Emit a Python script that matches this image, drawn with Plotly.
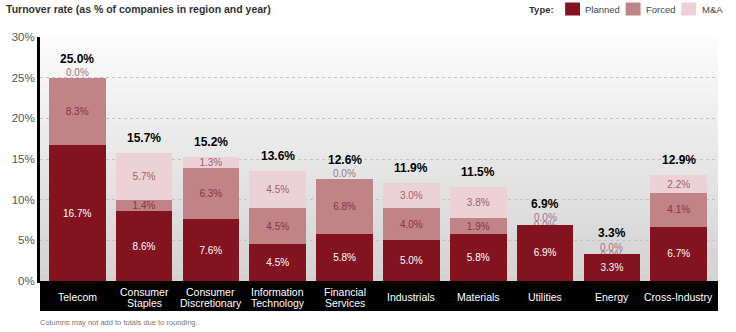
import plotly.graph_objects as go

categories = ["Telecom", "Consumer Staples", "Consumer Discretionary", "Information Technology",
              "Financial Services", "Industrials", "Materials", "Utilities", "Energy", "Cross-Industry"]
category_lines = [["Telecom"], ["Consumer", "Staples"], ["Consumer", "Discretionary"],
                  ["Information", "Technology"], ["Financial", "Services"], ["Industrials"],
                  ["Materials"], ["Utilities"], ["Energy"], ["Cross-Industry"]]
planned = [16.7, 8.6, 7.6, 4.5, 5.8, 5.0, 5.8, 6.9, 3.3, 6.7]
forced = [8.3, 1.4, 6.3, 4.5, 6.8, 4.0, 1.9, 0.0, 0.0, 4.1]
ma = [0.0, 5.7, 1.3, 4.5, 0.0, 3.0, 3.8, 0.0, 0.0, 2.2]
totals = [25.0, 15.7, 15.2, 13.6, 12.6, 11.9, 11.5, 6.9, 3.3, 12.9]
y_ticks = [0, 5, 10, 15, 20, 25, 30]
y_ticklabels = ["0%", "5%", "10%", "15%", "20%", "25%", "30%"]
series_names = ["Planned", "Forced", "M&A"]

C_PLANNED = "#83131e"
C_FORCED = "#bf8388"
C_MA = "#ecd2d6"
ARIAL = "Arial, Liberation Sans, sans-serif"

W, H = 736, 332
L, R, T, B = 35, 718, 37, 281


def px_x(px):
    return (px - L) / (R - L)


def px_y(py):
    return (B - py) / (B - T)


def fmt(v):
    return f"{v:.1f}%" if v > 0 else ""


fig = go.Figure()
idx = list(range(len(categories)))
bar_w = 0.847
fig.add_trace(go.Bar(x=idx, y=planned, name="Planned", marker=dict(color=C_PLANNED, line=dict(width=0)),
                     width=bar_w, text=[fmt(v) for v in planned], textposition="inside",
                     insidetextanchor="middle", textangle=0,
                     textfont=dict(color="white", size=10, family=ARIAL)))
fig.add_trace(go.Bar(x=idx, y=forced, name="Forced", marker=dict(color=C_FORCED, line=dict(width=0)),
                     width=bar_w, text=[fmt(v) for v in forced], textposition="inside",
                     insidetextanchor="middle", textangle=0,
                     textfont=dict(color="#8a3540", size=10, family=ARIAL)))
fig.add_trace(go.Bar(x=idx, y=ma, name="M&A", marker=dict(color=C_MA, line=dict(width=0)),
                     width=bar_w, text=[fmt(v) for v in ma], textposition="inside",
                     insidetextanchor="middle", textangle=0,
                     textfont=dict(color="#a0606a", size=10, family=ARIAL)))

shapes = []
annotations = []

# gradient background of plot area
N = 60
for k in range(N):
    t = k / (N - 1)
    g = int(round(252 - (252 - 210) * t))
    shapes.append(dict(type="rect", xref="paper", yref="paper", x0=0, x1=1,
                       y0=1 - (k + 1) / N, y1=1 - k / N + 0.002,
                       fillcolor=f"rgb({g},{g},{g})", line=dict(width=0), layer="below"))

# black category band
shapes.append(dict(type="rect", xref="paper", yref="paper", x0=0, x1=1,
                   y0=px_y(311), y1=px_y(283), fillcolor="black", line=dict(width=0), layer="below"))

for i in idx:
    lines = category_lines[i]
    ys = [297] if len(lines) == 1 else [291.5, 303]
    for line, py in zip(lines, ys):
        annotations.append(dict(x=i, xref="x", y=px_y(py), yref="paper", text=line, showarrow=False,
                                xanchor="center", yanchor="middle",
                                font=dict(family=ARIAL, size=10.5, color="white")))
    top = planned[i] + forced[i] + ma[i]
    nzero = (1 if ma[i] == 0 else 0) + (1 if (forced[i] == 0 and ma[i] == 0) else 0)
    if nzero >= 1:
        annotations.append(dict(x=i, y=top, xref="x", yref="y", text="0.0%", showarrow=False,
                                yanchor="middle", yshift=5 if nzero == 1 else 7,
                                font=dict(family=ARIAL, size=10, color="#a07482")))
    if nzero == 2:
        shapes.append(dict(type="line", xref="x", yref="y", x0=i - 0.4, x1=i + 0.4, y0=top, y1=top,
                           line=dict(width=0, color="rgba(0,0,0,0)"), layer="below",
                           label=dict(text="0.0%", textposition="middle", yanchor="middle", padding=0,
                                      font=dict(family=ARIAL, size=10, color="#a07482"))))
    shift = {0: 15, 1: 19, 2: 21}[nzero]
    annotations.append(dict(x=i, y=top, xref="x", yref="y", text=f"<b>{totals[i]:.1f}%</b>",
                            showarrow=False, yanchor="middle", yshift=shift,
                            font=dict(family=ARIAL, size=12, color="black")))

# custom legend
annotations.append(dict(x=px_x(555), y=px_y(9), xref="paper", yref="paper", text="<b>Type:</b>",
                        showarrow=False, xanchor="right", yanchor="middle",
                        font=dict(family=ARIAL, size=9.5, color="#333")))
leg = [(564, C_PLANNED), (625, C_FORCED), (681, C_MA)]
for (x0, col), name in zip(leg, series_names):
    shapes.append(dict(type="rect", xref="paper", yref="paper", x0=px_x(x0), x1=px_x(x0 + 15),
                       y0=px_y(15.5), y1=px_y(2.5), fillcolor=col, line=dict(width=0)))
    annotations.append(dict(x=px_x(x0 + 18.5), y=px_y(9), xref="paper", yref="paper", text=name,
                            showarrow=False, xanchor="left", yanchor="middle",
                            font=dict(family=ARIAL, size=9.5, color="#444")))

annotations.append(dict(x=px_x(33), y=px_y(322), xref="paper", yref="paper",
                        text="Columns may not add to totals due to rounding.", showarrow=False,
                        xanchor="left", yanchor="middle", font=dict(family=ARIAL, size=7.5, color="#777")))

fig.update_layout(
    width=W, height=H, barmode="stack", showlegend=False,
    margin=dict(l=L, r=W - R, t=T, b=H - B, pad=0),
    paper_bgcolor="white", plot_bgcolor="rgba(0,0,0,0)",
    title=dict(text="<b>Turnover rate (as % of companies in region and year)</b>", x=6 / W,
               xanchor="left", y=1 - 9 / H, yanchor="middle",
               font=dict(family=ARIAL, size=10.5, color="#333")),
    uniformtext=dict(minsize=10, mode="show"),
    shapes=shapes, annotations=annotations,
    xaxis=dict(range=[-0.557, 9.587], showticklabels=False, showgrid=False, zeroline=False,
               showline=True, linecolor="black", linewidth=2, ticks=""),
    yaxis=dict(range=[0, 30], tickvals=y_ticks, ticktext=y_ticklabels, showgrid=True,
               gridcolor="#c4c4c4", griddash="dot", gridwidth=1, zeroline=False,
               showline=True, linecolor="black", linewidth=3, ticks="",
               tickfont=dict(family=ARIAL, size=11.5, color="#555")),
    font=dict(family=ARIAL),
)

fig.write_html("out.html")
